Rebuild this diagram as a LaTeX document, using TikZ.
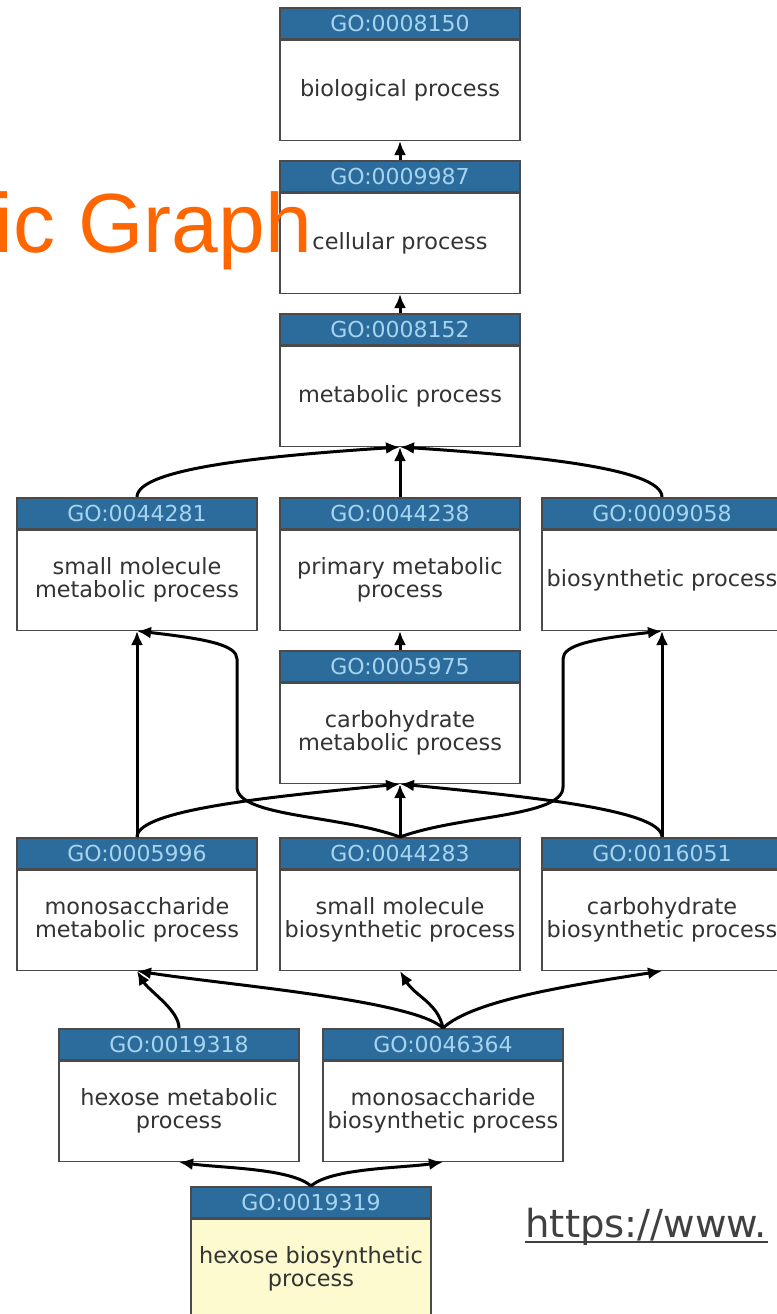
\documentclass[tikz,border=0pt]{standalone}
\usepackage{fontspec}
\setmainfont{DejaVu Sans}
\newfontfamily\titlefont{Liberation Sans}
\usetikzlibrary{positioning,arrows.meta}
\definecolor{gohead}{HTML}{2C6C9C}
\definecolor{goid}{HTML}{A6D4EE}
\definecolor{goline}{HTML}{4A4A4A}
\definecolor{gotext}{HTML}{333333}
\definecolor{goleaf}{HTML}{FDFAD0}
\definecolor{slidetitle}{HTML}{FF6600}
\definecolor{urlgray}{HTML}{404040}
\tikzset{
  idbar/.style={draw=goline, fill=gohead, text=goid, line width=0.75pt,
    minimum width=120pt, minimum height=15.5pt, inner sep=0pt,
    font=\fontsize{11}{11}\selectfont},
  termbox/.style={draw=goline, line width=0.75pt, minimum width=120pt,
    minimum height=50pt, inner sep=0pt, align=center, text=gotext,
    font=\fontsize{11.2}{11.5}\selectfont},
  isa/.style={line width=1.5pt, -{Latex[length=7pt,width=6pt]}},
}
% term box: [fill]{name}{x}{top}{id}{label}
\newcommand{\goterm}[6][white]{%
  \node[idbar, anchor=north] (#2-id) at (#3,#4) {#5};
  \node[termbox, fill=#1, below=0pt of #2-id] (#2) {#6};
}
\begin{document}
\begin{tikzpicture}[x=0.5pt,y=-0.5pt]
  \useasboundingbox (0,0) rectangle (777,1314);
  \clip (0,0) rectangle (777,1314);
  % terms
  \goterm{bio}{400}{7}{GO:0008150}{biological process}
  \goterm{cell}{400}{160}{GO:0009987}{cellular process}
  \goterm{meta}{400}{313}{GO:0008152}{metabolic process}
  \goterm{smm}{137}{497}{GO:0044281}{small molecule\\metabolic process}
  \goterm{prim}{400}{497}{GO:0044238}{primary metabolic\\process}
  \goterm{bsyn}{662}{497}{GO:0009058}{biosynthetic process}
  \goterm{carbm}{400}{650}{GO:0005975}{carbohydrate\\metabolic process}
  \goterm{monom}{137}{837}{GO:0005996}{monosaccharide\\metabolic process}
  \goterm{smb}{400}{837}{GO:0044283}{small molecule\\biosynthetic process}
  \goterm{carbb}{662}{837}{GO:0016051}{carbohydrate\\biosynthetic process}
  \goterm{hexm}{179}{1028}{GO:0019318}{hexose metabolic\\process}
  \goterm{monob}{443}{1028}{GO:0046364}{monosaccharide\\biosynthetic process}
  \goterm[goleaf]{hexb}{311}{1186}{GO:0019319}{hexose biosynthetic\\process}
  % is_a edges
  \draw[isa] (cell-id.north) -- (bio.south);
  \draw[isa] (meta-id.north) -- (cell.south);
  \draw[isa] (smm-id.north) .. controls +(0,-30) and +(-120,8) .. (meta.south);
  \draw[isa] (prim-id.north) -- (meta.south);
  \draw[isa] (bsyn-id.north) .. controls +(0,-30) and +(120,8) .. (meta.south);
  \draw[isa] (carbm-id.north) -- (prim.south);
  \draw[isa] (monom-id.north) -- (smm.south);
  \draw[isa] (monom-id.north) .. controls +(0,-28) and +(-120,12) .. (carbm.south);
  \draw[isa] (smb-id.north) -- (carbm.south);
  \draw[isa] (smb-id.north) .. controls +(-60,-22) and +(0,30) .. ++(-163,-50)
    -- ++(0,-128) .. controls +(0,-14) and +(70,8) .. (smm.south);
  \draw[isa] (smb-id.north) .. controls +(60,-22) and +(0,30) .. ++(163,-50)
    -- ++(0,-128) .. controls +(0,-14) and +(-70,8) .. (bsyn.south);
  \draw[isa] (carbb-id.north) -- (bsyn.south);
  \draw[isa] (carbb-id.north) .. controls +(0,-28) and +(120,12) .. (carbm.south);
  \draw[isa] (hexm-id.north) .. controls +(0,-18) and +(12,20) .. (monom.south);
  \draw[isa] (monob-id.north) .. controls +(-30,-28) and +(90,14) .. (monom.south);
  \draw[isa] (monob-id.north) .. controls +(-5,-25) and +(15,25) .. (smb.south);
  \draw[isa] (monob-id.north) .. controls +(30,-28) and +(-90,14) .. (carbb.south);
  \draw[isa] (hexb-id.north) .. controls +(-20,-18) and +(40,6) .. (hexm.south);
  \draw[isa] (hexb-id.north) .. controls +(20,-18) and +(-40,6) .. (monob.south);
  % slide text
  \node[font=\titlefont\fontsize{42}{42}\selectfont, text=slidetitle,
    anchor=base west, inner sep=0pt] (title) at (-6,252) {ic Graph};
  \node[font=\fontsize{19.3}{20}\selectfont, text=urlgray,
    anchor=base west, inner sep=0pt] (url) at (525,1237) {https://www.};
  \draw[urlgray, line width=0.6pt] ([yshift=-2.5pt]url.base west) -- ([yshift=-2.5pt]url.base east);
\end{tikzpicture}
\end{document}
